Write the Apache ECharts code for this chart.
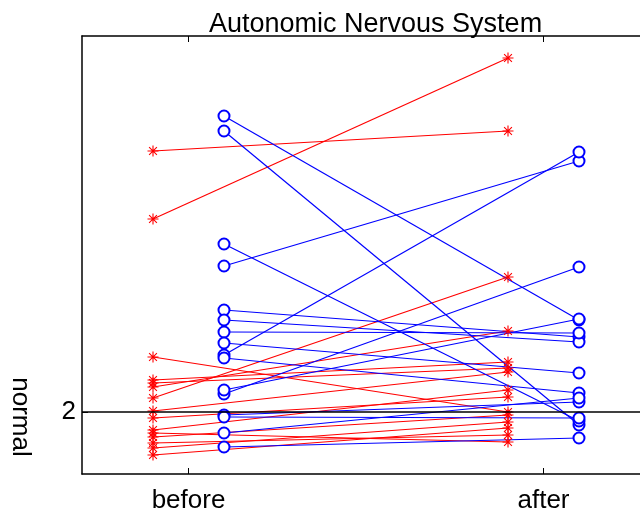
<!DOCTYPE html>
<html>
<head>
<meta charset="utf-8">
<script src="https://cdn.jsdelivr.net/npm/echarts@6/dist/echarts.min.js"></script>
<style>
html,body{margin:0;padding:0;background:#fff;}
#chart{width:640px;height:515px;}
</style>
</head>
<body>
<div id="chart"></div>
<script>
// Data
var categories = ['before', 'after'];
var categoryPos = [1, 2];
var redX = [0.9, 1.9];
var blueX = [1.1, 2.1];
var redBefore = [4.61, 3.93, 2.55, 2.32, 2.29, 2.25, 2.14, 2.01, 1.94, 1.82, 1.79, 1.75, 1.69, 1.64, 1.57];
var redAfter  = [4.81, 5.54, 2.00, 2.50, 2.44, 2.81, 3.35, 2.40, 2.15, 2.22, 1.70, 1.97, 1.77, 1.90, 1.84];
var blueBefore = [4.96, 4.81, 3.68, 3.46, 2.57, 2.18, 2.22, 3.02, 2.92, 2.80, 2.69, 2.54, 1.97, 1.95, 1.79, 1.65];
var blueAfter  = [2.92, 1.87, 1.91, 4.51, 4.60, 3.45, 2.93, 2.75, 2.70, 2.79, 2.39, 2.19, 2.10, 1.94, 2.14, 1.74];
var yTicks = [2];
var normalLevel = 2;

var FONT = '"Liberation Sans", Arial, sans-serif';
var asterisk = 'path://M-1,-10 L1,-10 L1,10 L-1,10 Z M-10,-1 L10,-1 L10,1 L-10,1 Z M-7.8,-6.4 L-6.4,-7.8 L7.8,6.4 L6.4,7.8 Z M6.4,-7.8 L7.8,-6.4 L-6.4,7.8 L-7.8,6.4 Z';

var series = [];
redBefore.forEach(function (b, i) {
  series.push({
    type: 'line', silent: true, animation: false,
    data: [[redX[0], b], [redX[1], redAfter[i]]],
    symbol: asterisk, symbolSize: 11, showAllSymbol: true,
    lineStyle: { color: '#ff0000', width: 1.2 },
    itemStyle: { color: '#ff0000' }
  });
});
blueBefore.forEach(function (b, i) {
  series.push({
    type: 'line', silent: true, animation: false,
    data: [[blueX[0], b], [blueX[1], blueAfter[i]]],
    symbol: 'emptyCircle', symbolSize: 11, showAllSymbol: true,
    lineStyle: { color: '#0000ff', width: 1.2 },
    itemStyle: { color: '#0000ff', borderColor: '#0000ff', borderWidth: 1.5 }
  });
});
series.push({
  type: 'line', data: [], silent: true, animation: false,
  markLine: {
    silent: true, symbol: ['none', 'none'], label: { show: false },
    lineStyle: { color: '#000', width: 1.5, type: 'solid' },
    data: [{ yAxis: normalLevel }]
  }
});

var chart = echarts.init(document.getElementById('chart'));
chart.setOption({
  animation: false,
  backgroundColor: '#fff',
  title: {
    text: 'Autonomic Nervous System',
    left: 204, top: 6,
    textStyle: { fontFamily: FONT, fontSize: 27, fontWeight: 'normal', color: '#000' }
  },
  grid: { left: 82, top: 36, width: 568, height: 438, containLabel: false, outerBoundsMode: 'none' },
  xAxis: [{
    type: 'value', min: 0.7, max: 2.3, position: 'bottom',
    axisLine: { show: true, lineStyle: { color: '#000', width: 1.5 } },
    axisTick: { show: true, inside: true, length: 6, customValues: categoryPos, lineStyle: { color: '#000' } },
    axisLabel: {
      customValues: categoryPos, margin: 14,
      formatter: function (v) { return categories[categoryPos.indexOf(Math.round(v))] || ''; },
      fontFamily: FONT, fontSize: 26, color: '#000'
    },
    splitLine: { show: false }
  }, {
    type: 'value', min: 0.7, max: 2.3, position: 'top',
    axisLine: { show: true, lineStyle: { color: '#000', width: 1.5 } },
    axisTick: { show: true, inside: true, length: 6, customValues: categoryPos, lineStyle: { color: '#000' } },
    axisLabel: { show: false },
    splitLine: { show: false }
  }],
  yAxis: {
    type: 'value', min: 1.38, max: 5.76,
    axisLine: { show: true, lineStyle: { color: '#000', width: 1.5 } },
    axisTick: { show: true, inside: true, length: 6, customValues: yTicks, lineStyle: { color: '#000' } },
    axisLabel: { customValues: yTicks, margin: 6, fontFamily: FONT, fontSize: 26, color: '#000' },
    splitLine: { show: false }
  },
  graphic: [{
    type: 'text', x: 20, y: 417, rotation: -Math.PI / 2,
    style: { text: 'normal', fontFamily: FONT, fontSize: 26, fill: '#000', textAlign: 'center', textVerticalAlign: 'middle' }
  }],
  series: series
});
</script>
</body>
</html>
